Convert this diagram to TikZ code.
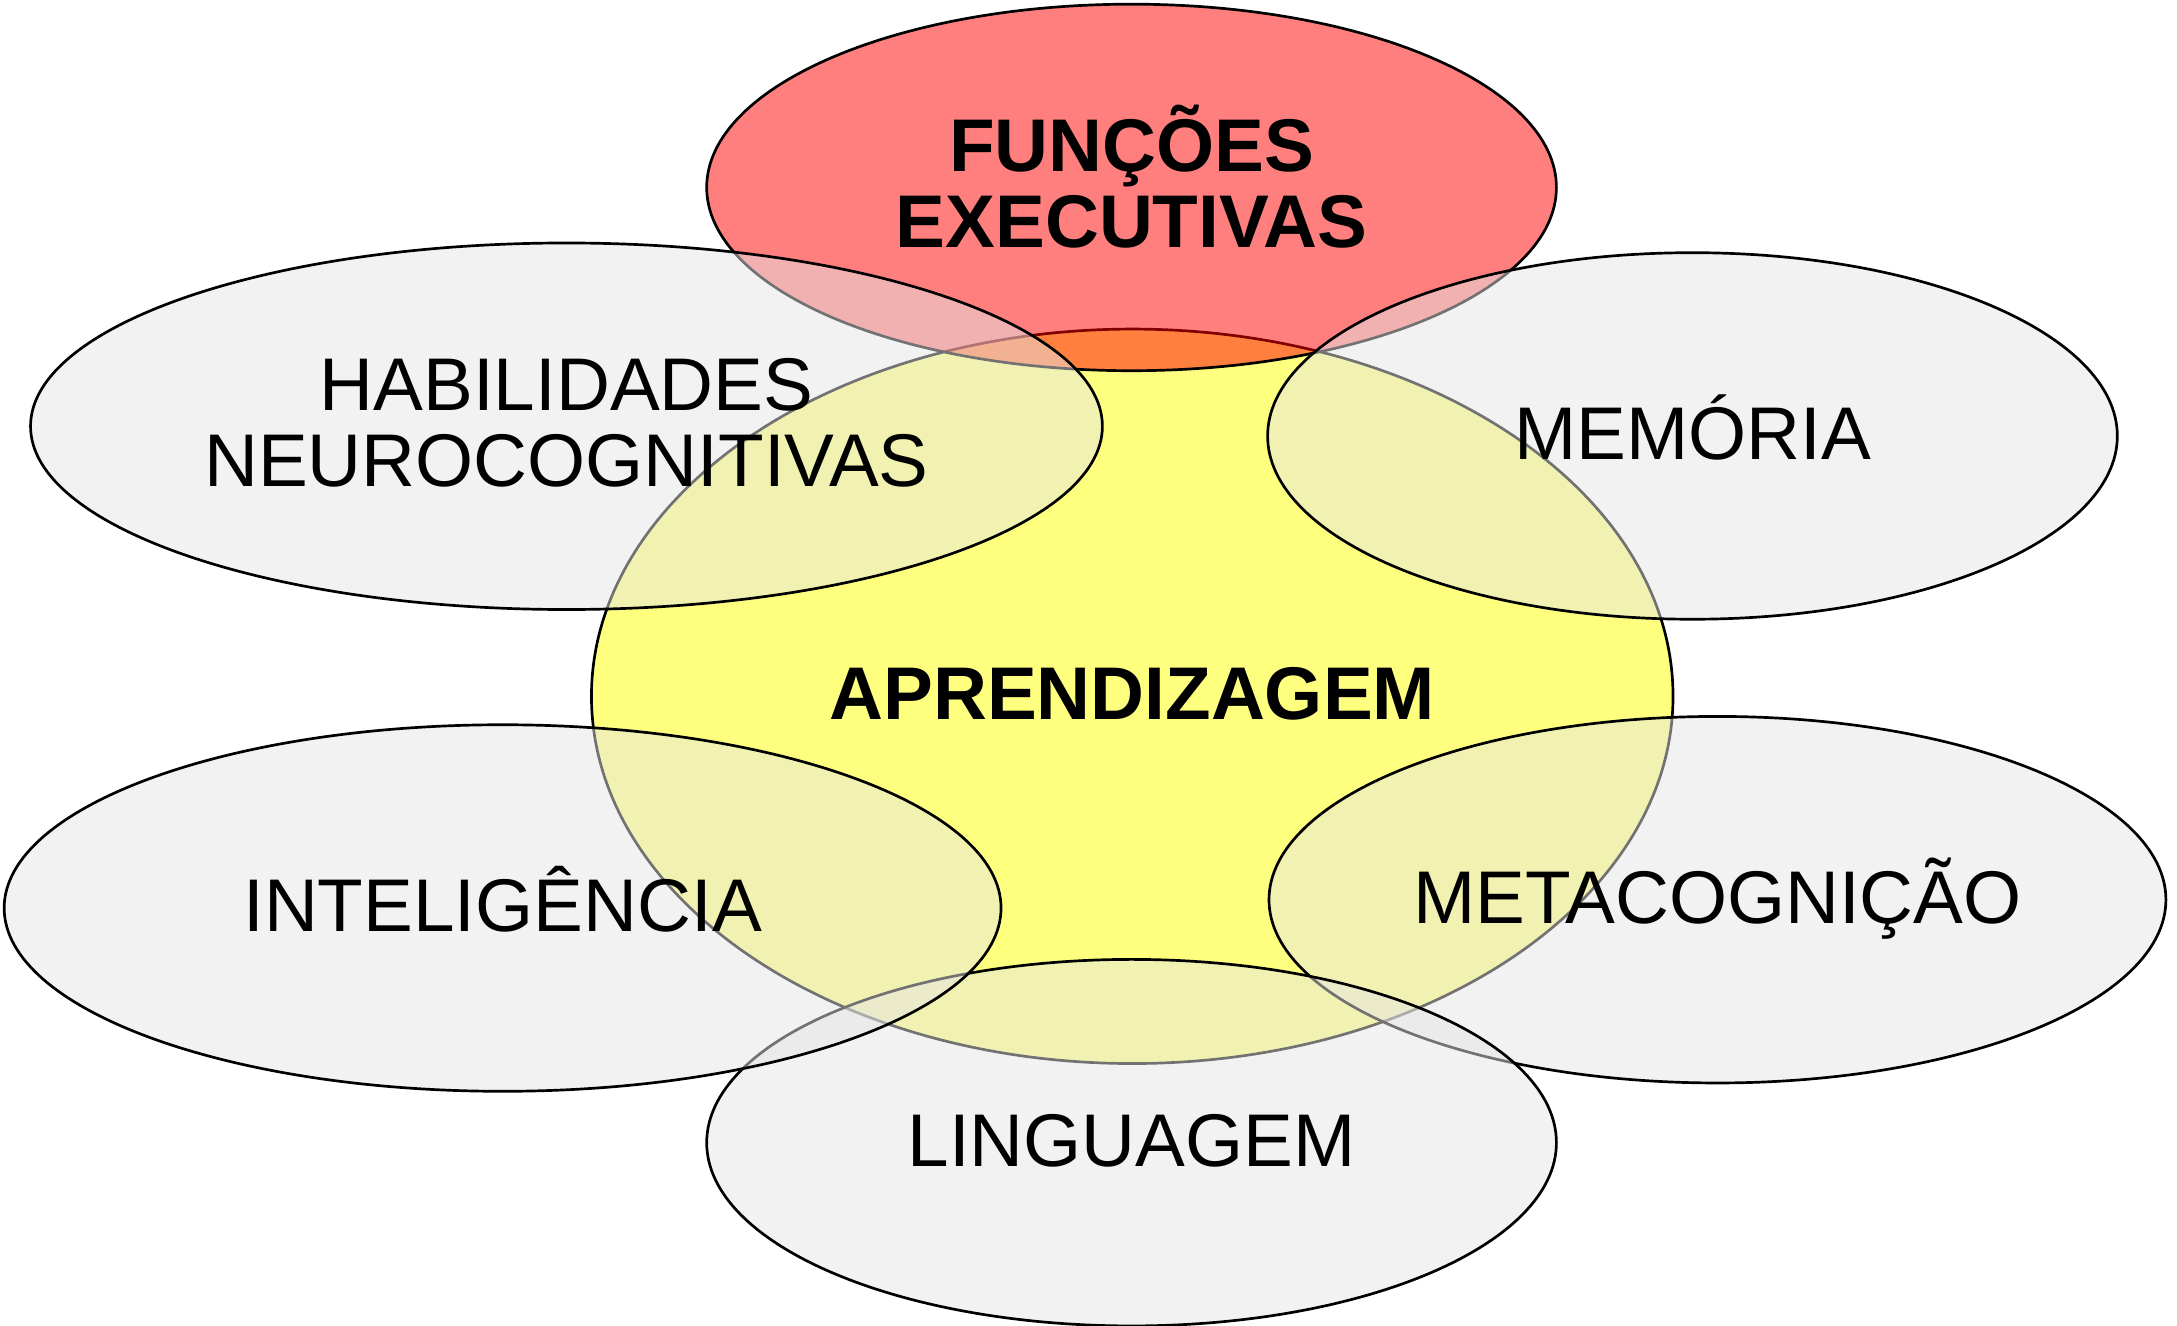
\documentclass[tikz,border=0pt]{standalone}
\usepackage{fontspec}
\setmainfont{Liberation Sans}
\usetikzlibrary{shapes}

\definecolor{paleyellow}{HTML}{FFFF00}
% raise two-line text inside its ellipse, keeping the box size
\newcommand{\twolines}[3]{\raisebox{#1}[\height][\depth]{\begin{tabular}{@{}c@{}}#2\\#3\end{tabular}}}

\tikzset{
  bubble/.style={draw=black,line width=0.55pt,ellipse,inner sep=0pt,
    fill=black!10,fill opacity=0.5,text opacity=1,
    minimum width=6.12cm,minimum height=2.64cm,
    font=\fontsize{15.3}{15.6}\selectfont},
  oneline/.style={text height=11pt,text depth=0.05cm},
  centre/.style={bubble,fill=paleyellow,font=\fontsize{15.3}{15.6}\selectfont\bfseries},
  topbubble/.style={bubble,fill=red,font=\fontsize{15.3}{15.6}\selectfont\bfseries}
}

\begin{document}
\begin{tikzpicture}
      \useasboundingbox (0,0) rectangle (15.68,-9.55);
      \node[centre,oneline,minimum width=7.79cm,minimum height=5.29cm] (aprend) at (8.155,-5.015) {APRENDIZAGEM};
      \node[topbubble] (funcoes) at (8.15,-1.35) {\twolines{0cm}{FUNÇÕES}{EXECUTIVAS}};
      \node[bubble,oneline] (memoria) at (12.19,-3.14) {MEMÓRIA};
      \node[bubble,oneline,minimum width=6.46cm] (metacog) at (12.37,-6.48) {METACOGNIÇÃO};
      \node[bubble,oneline] (linguagem) at (8.15,-8.23) {LINGUAGEM};
      \node[bubble,oneline,minimum width=7.18cm] (intelig) at (3.62,-6.54) {INTELIGÊNCIA};
      \node[bubble,minimum width=7.72cm] (habil) at (4.08,-3.07) {\twolines{-0.05cm}{HABILIDADES}{NEUROCOGNITIVAS}};
\end{tikzpicture}
\end{document}
